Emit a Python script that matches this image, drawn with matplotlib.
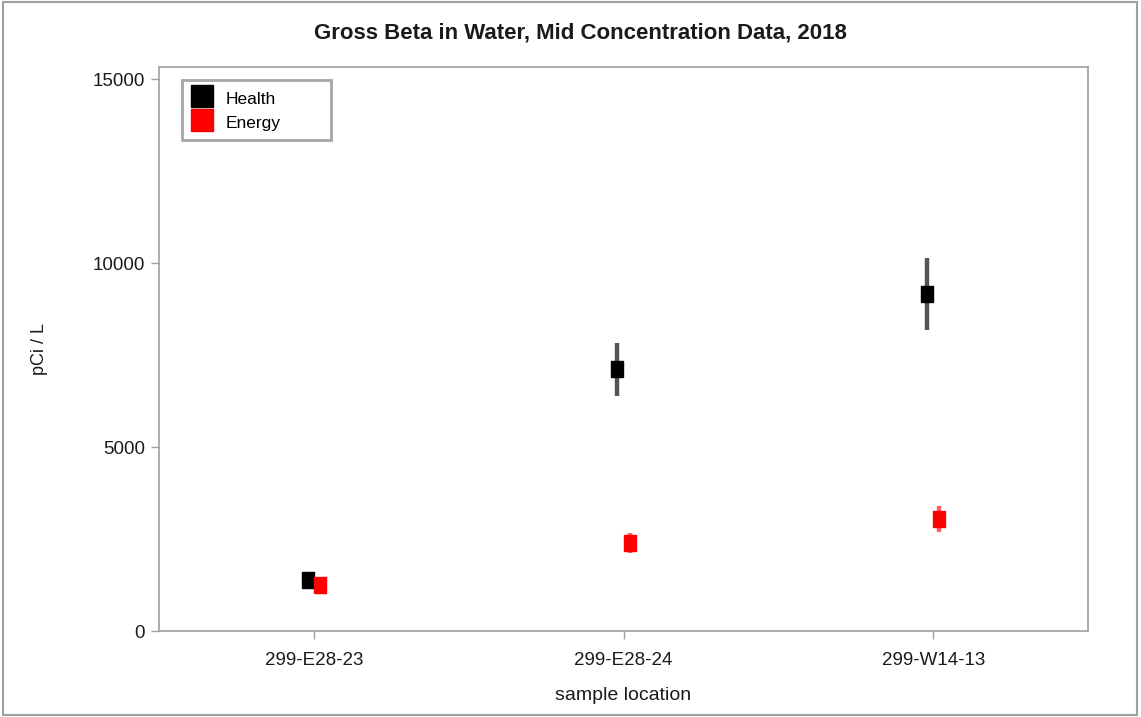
import matplotlib
matplotlib.use("Agg")
import matplotlib.pyplot as plt
from matplotlib.lines import Line2D
from matplotlib.patches import Rectangle

plt.rcParams['font.family'] = ['Liberation Sans', 'DejaVu Sans']

locations = ["299-E28-23", "299-E28-24", "299-W14-13"]
health_vals = [1390, 7120, 9160]
health_err = [150, 720, 980]
energy_vals = [1250, 2390, 3040]
energy_err = [120, 270, 350]

fig = plt.figure(figsize=(11.41, 7.17), dpi=100)
ax = fig.add_axes([159/1141, 1-631/717, (1088-159)/1141, (631-67)/717])

x = list(range(len(locations)))
dodge = 0.0194
hx = [v - dodge for v in x]
ex = [v + dodge for v in x]

rect_marker = [(-0.8, -1), (0.8, -1), (0.8, 1), (-0.8, 1), (-0.8, -1)]

ax.errorbar(hx, health_vals, yerr=health_err, fmt='none', ecolor='#555555', elinewidth=3.2, capsize=0, zorder=2)
ax.plot(hx, health_vals, marker=rect_marker, color='black', markersize=11, zorder=3, linestyle='none')
ax.errorbar(ex, energy_vals, yerr=energy_err, fmt='none', ecolor='#ff6060', elinewidth=3.2, capsize=0, zorder=2)
ax.plot(ex, energy_vals, marker=rect_marker, color='red', markersize=11, zorder=3, linestyle='none')

ax.set_xlim(-0.5, 2.5)
ax.set_ylim(0, 15330)
ax.set_yticks([0, 5000, 10000, 15000])
ax.set_xticks(x)
ax.set_xticklabels(locations)
for s in ax.spines.values():
    s.set_color('#a0a0a0')
    s.set_linewidth(1.2)
ax.tick_params(axis='both', colors='#a0a0a0', labelcolor='#1a1a1a', labelsize=13.5, length=6, width=1)
ax.tick_params(axis='x', pad=9)
ax.tick_params(axis='y', pad=4)
ax.set_xlabel("sample location", fontsize=14, color='#1a1a1a', labelpad=13)
ax.set_ylabel("pCi / L", fontsize=13, color='#1a1a1a', labelpad=32)

fig.text(580/1141, 1-33/717, "Gross Beta in Water, Mid Concentration Data, 2018",
         ha='center', va='center', fontsize=16, fontweight='bold',
         family=['Liberation Sans Narrow', 'Liberation Sans', 'DejaVu Sans'], color='#1a1a1a')

handles = [Line2D([], [], marker='s', color='black', linestyle='none', markersize=16),
           Line2D([], [], marker='s', color='red', linestyle='none', markersize=16)]
x0 = (182-159)/929
w = (331-182)/929
top = (631-80)/564
h = (142-80)/564
leg = ax.legend(handles, ["Health", "Energy"], loc='upper left', bbox_to_anchor=(x0, top-h, w, h),
                mode='expand', fontsize=12.5, frameon=True, fancybox=False, handlelength=1.25,
                handleheight=1.25, handletextpad=0.75,
                labelspacing=0.32, borderpad=0.5, borderaxespad=0)
leg.get_frame().set_edgecolor('#909090')
leg.get_frame().set_linewidth(2)

fig.patches.append(Rectangle((3/1141, 2/717), (1137-3)/1141, 1-4/717, transform=fig.transFigure,
                             fill=False, edgecolor='#a0a0a0', linewidth=1.5))

fig.savefig("out.png", dpi=100)
